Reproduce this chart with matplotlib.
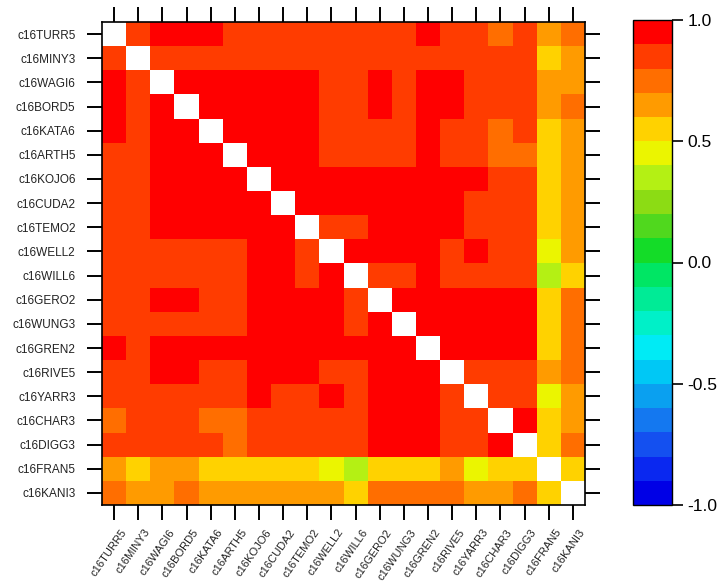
import numpy as np
import matplotlib
matplotlib.use("Agg")
import matplotlib.pyplot as plt
import matplotlib.transforms as mtrans
from matplotlib.colors import ListedColormap, BoundaryNorm

plt.rcParams['font.family'] = ['Liberation Sans', 'DejaVu Sans']

stations = ['c16TURR5', 'c16MINY3', 'c16WAGI6', 'c16BORD5', 'c16KATA6',
            'c16ARTH5', 'c16KOJO6', 'c16CUDA2', 'c16TEMO2', 'c16WELL2',
            'c16WILL6', 'c16GERO2', 'c16WUNG3', 'c16GREN2', 'c16RIVE5',
            'c16YARR3', 'c16CHAR3', 'c16DIGG3', 'c16FRAN5', 'c16KANI3']

# correlacje (srodek przedzialu koloru), przekatna = 1
corr = np.array([
    [1.00, 0.85, 0.95, 0.95, 0.95, 0.85, 0.85, 0.85, 0.85, 0.85, 0.85, 0.85, 0.85, 0.95, 0.85, 0.85, 0.75, 0.85, 0.65, 0.75],
    [0.85, 1.00, 0.85, 0.85, 0.85, 0.85, 0.85, 0.85, 0.85, 0.85, 0.85, 0.85, 0.85, 0.85, 0.85, 0.85, 0.85, 0.85, 0.55, 0.65],
    [0.95, 0.85, 1.00, 0.95, 0.95, 0.95, 0.95, 0.95, 0.95, 0.85, 0.85, 0.95, 0.85, 0.95, 0.95, 0.85, 0.85, 0.85, 0.65, 0.65],
    [0.95, 0.85, 0.95, 1.00, 0.95, 0.95, 0.95, 0.95, 0.95, 0.85, 0.85, 0.95, 0.85, 0.95, 0.95, 0.85, 0.85, 0.85, 0.65, 0.75],
    [0.95, 0.85, 0.95, 0.95, 1.00, 0.95, 0.95, 0.95, 0.95, 0.85, 0.85, 0.85, 0.85, 0.95, 0.85, 0.85, 0.75, 0.85, 0.55, 0.65],
    [0.85, 0.85, 0.95, 0.95, 0.95, 1.00, 0.95, 0.95, 0.95, 0.85, 0.85, 0.85, 0.85, 0.95, 0.85, 0.85, 0.75, 0.75, 0.55, 0.65],
    [0.85, 0.85, 0.95, 0.95, 0.95, 0.95, 1.00, 0.95, 0.95, 0.95, 0.95, 0.95, 0.95, 0.95, 0.95, 0.95, 0.85, 0.85, 0.55, 0.65],
    [0.85, 0.85, 0.95, 0.95, 0.95, 0.95, 0.95, 1.00, 0.95, 0.95, 0.95, 0.95, 0.95, 0.95, 0.95, 0.85, 0.85, 0.85, 0.55, 0.65],
    [0.85, 0.85, 0.95, 0.95, 0.95, 0.95, 0.95, 0.95, 1.00, 0.85, 0.85, 0.95, 0.95, 0.95, 0.95, 0.85, 0.85, 0.85, 0.55, 0.65],
    [0.85, 0.85, 0.85, 0.85, 0.85, 0.85, 0.95, 0.95, 0.85, 1.00, 0.95, 0.95, 0.95, 0.95, 0.85, 0.95, 0.85, 0.85, 0.45, 0.65],
    [0.85, 0.85, 0.85, 0.85, 0.85, 0.85, 0.95, 0.95, 0.85, 0.95, 1.00, 0.85, 0.85, 0.95, 0.85, 0.85, 0.85, 0.85, 0.35, 0.55],
    [0.85, 0.85, 0.95, 0.95, 0.85, 0.85, 0.95, 0.95, 0.95, 0.95, 0.85, 1.00, 0.95, 0.95, 0.95, 0.95, 0.95, 0.95, 0.55, 0.75],
    [0.85, 0.85, 0.85, 0.85, 0.85, 0.85, 0.95, 0.95, 0.95, 0.95, 0.85, 0.95, 1.00, 0.95, 0.95, 0.95, 0.95, 0.95, 0.55, 0.75],
    [0.95, 0.85, 0.95, 0.95, 0.95, 0.95, 0.95, 0.95, 0.95, 0.95, 0.95, 0.95, 0.95, 1.00, 0.95, 0.95, 0.95, 0.95, 0.55, 0.75],
    [0.85, 0.85, 0.95, 0.95, 0.85, 0.85, 0.95, 0.95, 0.95, 0.85, 0.85, 0.95, 0.95, 0.95, 1.00, 0.85, 0.85, 0.85, 0.65, 0.75],
    [0.85, 0.85, 0.85, 0.85, 0.85, 0.85, 0.95, 0.85, 0.85, 0.95, 0.85, 0.95, 0.95, 0.95, 0.85, 1.00, 0.85, 0.85, 0.45, 0.65],
    [0.75, 0.85, 0.85, 0.85, 0.75, 0.75, 0.85, 0.85, 0.85, 0.85, 0.85, 0.95, 0.95, 0.95, 0.85, 0.85, 1.00, 0.95, 0.55, 0.65],
    [0.85, 0.85, 0.85, 0.85, 0.85, 0.75, 0.85, 0.85, 0.85, 0.85, 0.85, 0.95, 0.95, 0.95, 0.85, 0.85, 0.95, 1.00, 0.55, 0.75],
    [0.65, 0.55, 0.65, 0.65, 0.55, 0.55, 0.55, 0.55, 0.55, 0.45, 0.35, 0.55, 0.55, 0.55, 0.65, 0.45, 0.55, 0.55, 1.00, 0.55],
    [0.75, 0.65, 0.65, 0.75, 0.65, 0.65, 0.65, 0.65, 0.65, 0.65, 0.55, 0.75, 0.75, 0.75, 0.75, 0.65, 0.65, 0.75, 0.55, 1.00],
])

levels = np.linspace(-1.0, 1.0, 21)
cbar_ticks = [-1.0, -0.5, 0.0, 0.5, 1.0]

# paleta 20 kolorow od -1 do 1 (jak w NCL)
colors = ['#0000e6', '#0a28f0', '#1450f0', '#1478f0', '#0aa0f0',
          '#00c8f5', '#00ebf5', '#00f0c8', '#00eb96', '#00e664',
          '#14dc28', '#50d81e', '#8cdc14', '#b4f014', '#ebf500',
          '#ffd200', '#ff9b00', '#ff6e00', '#ff3c00', '#ff0000']
cmap = ListedColormap(colors)
cmap.set_bad('white')
norm = BoundaryNorm(levels, cmap.N)

# przekatna rysowana na bialo
data = np.ma.masked_where(np.eye(len(stations), dtype=bool), corr)

fig = plt.figure(figsize=(7.24, 5.86), dpi=100)
ax = fig.add_axes([102 / 724, 81 / 586, 483 / 724, 483 / 586])
n = len(stations)
mesh = ax.pcolormesh(np.arange(n + 1), np.arange(n + 1), data, cmap=cmap, norm=norm)
ax.set_xlim(0, n)
ax.set_ylim(n, 0)

ax.set_xticks(np.arange(n) + 0.5)
ax.set_yticks(np.arange(n) + 0.5)
ax.set_yticklabels(stations, fontsize=8.5, color='#222222')
ax.set_xticklabels(stations, fontsize=8, color='#222222', rotation=55,
                   ha='right', va='top', rotation_mode='anchor')
ax.tick_params(axis='both', direction='out', length=11, width=1.4,
               top=True, right=True, labeltop=False, labelright=False)
ax.tick_params(axis='y', pad=8)
ax.tick_params(axis='x', pad=5)
# przesuniecie podpisow osi x lekko w prawo
shift = mtrans.ScaledTranslation(6 / 100, 0, fig.dpi_scale_trans)
for lab in ax.get_xticklabels():
    lab.set_transform(lab.get_transform() + shift)
for s in ax.spines.values():
    s.set_linewidth(1.2)

cax = fig.add_axes([633 / 724, 81 / 586, 39 / 724, 485 / 586])
cb = fig.colorbar(mesh, cax=cax, ticks=cbar_ticks, format='%.1f')
cb.minorticks_off()
cb.outline.set_linewidth(1.0)
cax.tick_params(direction='out', length=8, width=1.2, labelsize=12.5, pad=3)

fig.savefig('out.png', dpi=100)
